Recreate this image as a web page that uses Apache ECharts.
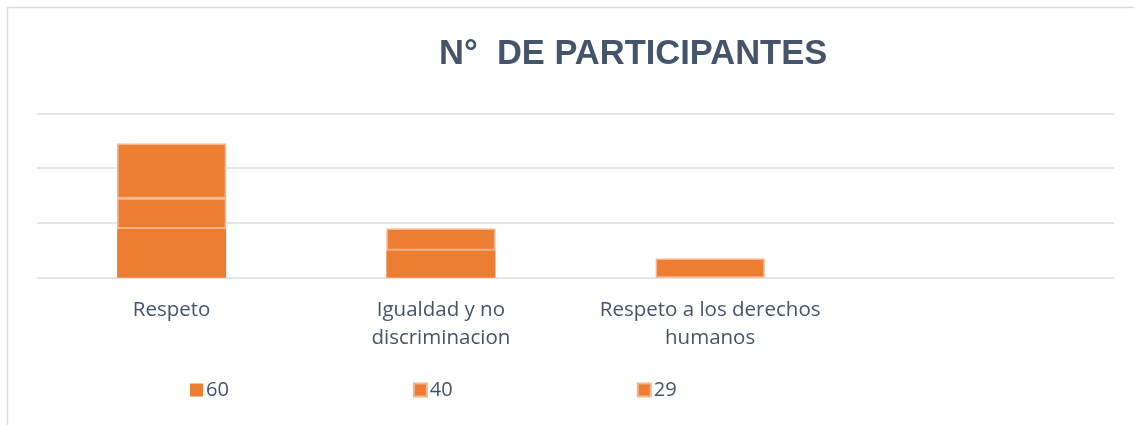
<!DOCTYPE html>
<html>
<head>
<meta charset="utf-8">
<script src="https://cdn.jsdelivr.net/npm/echarts@6/dist/echarts.min.js"></script>
<style>
  html, body { margin: 0; padding: 0; background: #fff; }
  #chart { width: 1134px; height: 425px; }
</style>
</head>
<body>
<div id="chart"></div>
<script>
// data (null = no segment)
const categories = ['Respeto', 'Igualdad y no\ndiscriminacion', 'Respeto a los derechos\nhumanos', '']
const seriesNames = ['60', '40', '29']
const values60 = [18, 10, null, null]
const values40 = [11, 8, 7, null]
const values29 = [20, null, null, null]
const yTicks = [0, 20, 40, 60]

const orange = '#ed7d31'
const lightEdge = '#f6b48a'
const textColor = '#44546a'
const gridColor = '#d9dde3'
const font = '"Open Sans", "Liberation Sans", sans-serif'

const chart = echarts.init(document.getElementById('chart'))

const barBase = {
  type: 'bar',
  stack: 'total',
  barWidth: '40.5%',
  silent: true
}

chart.setOption({
  animation: false,
  title: {
    text: 'N°  DE PARTICIPANTES',
    left: 434,
    top: 32,
    textStyle: {
      color: textColor,
      fontFamily: '"Liberation Sans", sans-serif',
      fontWeight: 'bold',
      fontSize: 34.5
    }
  },
  graphic: [{
    type: 'polyline',
    shape: { points: [[7.5, 425], [7.5, 7.5], [1134, 7.5]] },
    style: { stroke: gridColor, lineWidth: 1.5, fill: null },
    silent: true
  }],
  legend: {
    bottom: 20,
    left: 185,
    itemWidth: 13,
    itemHeight: 13,
    itemGap: 184,
    icon: 'rect',
    textStyle: { color: textColor, fontFamily: font, fontSize: 20, padding: [0, 0, 0, -2] },
    data: seriesNames
  },
  grid: { left: 37, right: 20, top: 113.3, bottom: 147.3 },
  xAxis: {
    type: 'category',
    data: categories,
    axisLine: { show: false },
    axisTick: { show: false },
    axisLabel: {
      interval: 0,
      color: textColor,
      fontFamily: font,
      fontSize: 20.5,
      lineHeight: 28,
      margin: 18
    }
  },
  yAxis: {
    type: 'value',
    min: yTicks[0],
    max: yTicks[yTicks.length - 1],
    interval: yTicks[1] - yTicks[0],
    axisLine: { show: false },
    axisTick: { show: false },
    axisLabel: { show: false },
    splitLine: { lineStyle: { color: gridColor, width: 1.5 } }
  },
  series: [
    Object.assign({}, barBase, {
      name: seriesNames[0],
      data: values60,
      itemStyle: { color: orange }
    }),
    Object.assign({}, barBase, {
      name: seriesNames[1],
      data: values40,
      itemStyle: { color: orange, borderColor: lightEdge, borderWidth: 1.5 }
    }),
    Object.assign({}, barBase, {
      name: seriesNames[2],
      data: values29,
      itemStyle: { color: orange, borderColor: lightEdge, borderWidth: 1.5 }
    })
  ]
})
</script>
</body>
</html>
